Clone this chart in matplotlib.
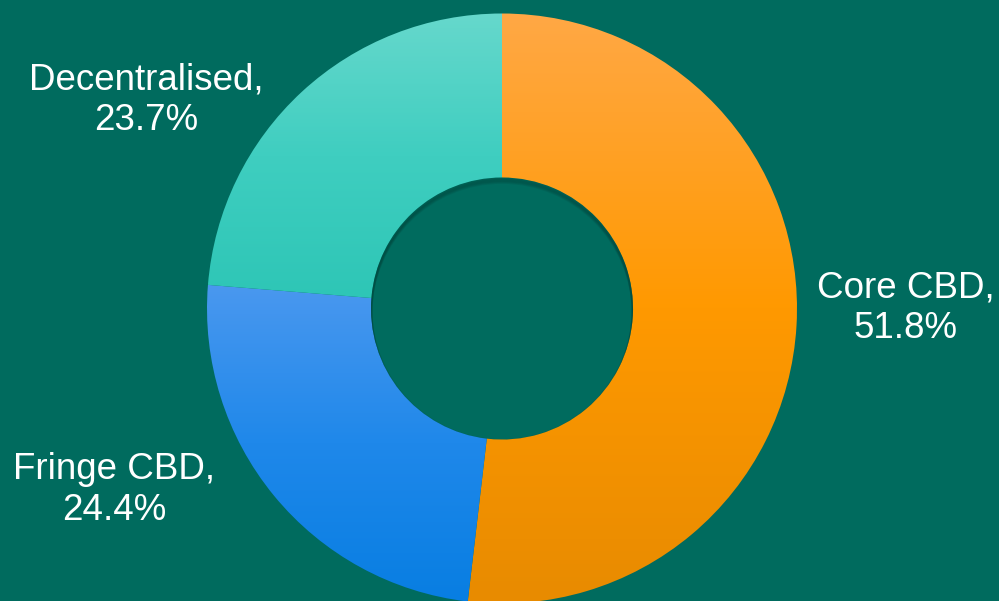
import matplotlib.pyplot as plt
import numpy as np
from matplotlib.colors import LinearSegmentedColormap
from matplotlib.patches import Circle

labels = ['Core CBD', 'Fringe CBD', 'Decentralised']
shares = [51.8, 24.4, 23.7]
# light (top) -> dark (bottom) for each slice
grad_colors = [
    ['#ffa845', '#ff9900', '#e88b00'],
    ['#4a98ef', '#1f88ea', '#087ee2'],
    ['#66d8cc', '#3fcec0', '#2ec6b6'],
]
bg = '#006b5e'

fig = plt.figure(figsize=(9.99, 6.01), dpi=100)
fig.patch.set_facecolor(bg)
ax = fig.add_axes([0, 0, 1, 1])
ax.set_facecolor(bg)

cx, cy, r, r_in = 502, 601 - 308.5, 295, 131
wedges, _ = ax.pie(shares, startangle=90, counterclock=False, center=(cx, cy),
                   radius=r, wedgeprops=dict(width=r - r_in, linewidth=0),
                   frame=True)

grad = np.linspace(1, 0, 256).reshape(-1, 1)
for w, cols in zip(wedges, grad_colors):
    w.set_facecolor('none')
    ext = w.get_path().get_extents()
    cmap = LinearSegmentedColormap.from_list('g', cols[::-1])
    im = ax.imshow(grad, cmap=cmap, aspect='auto', origin='upper',
                   extent=[ext.x0, ext.x1, ext.y0, ext.y1], zorder=1)
    im.set_clip_path(w)

# soft inner shadow along the top of the hole
hole = Circle((cx, cy), r_in, facecolor='none', edgecolor='none')
ax.add_patch(hole)
for i in range(6):
    c = Circle((cx, cy - 1 - i * 0.8), r_in, facecolor='none',
               edgecolor='#003a33', linewidth=2, alpha=0.12, zorder=2)
    ax.add_patch(c)
    c.set_clip_path(hole)

ax.set_xlim(0, 999)
ax.set_ylim(0, 601)
ax.set_aspect('equal')
ax.axis('off')

txt = dict(color='white', fontsize=26.5, family='Liberation Sans',
           ha='center', va='center', linespacing=1.22)
ax.text(906, 601 - 308, f'{labels[0]},\n{shares[0]}%', **txt)
ax.text(114, 601 - 490, f'{labels[1]},\n{shares[1]}%', **txt)
ax.text(146, 601 - 100, f'{labels[2]},\n{shares[2]}%', **txt)

fig.savefig('out.png', dpi=100, facecolor=bg)
